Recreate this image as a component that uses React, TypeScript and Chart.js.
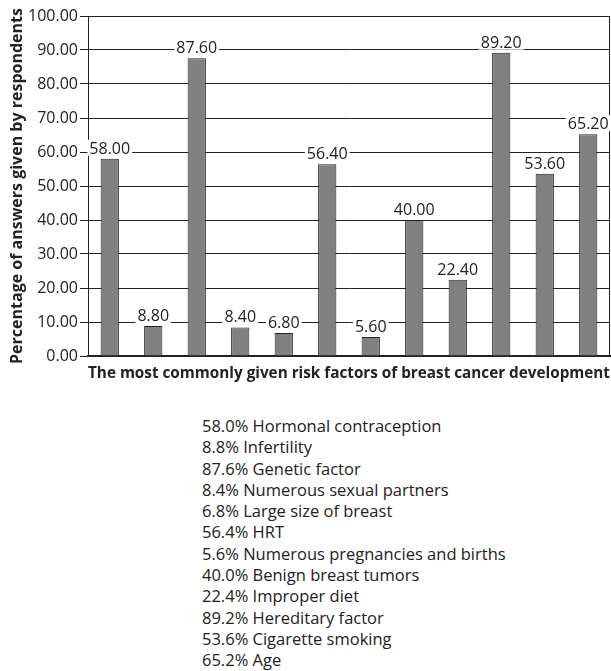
import React, { useEffect, useRef } from "react";
import { Chart, registerables } from "chart.js";

Chart.register(...registerables);

const categories = [
  "Hormonal contraception",
  "Infertility",
  "Genetic factor",
  "Numerous sexual partners",
  "Large size of breast",
  "HRT",
  "Numerous pregnancies and births",
  "Benign breast tumors",
  "Improper diet",
  "Hereditary factor",
  "Cigarette smoking",
  "Age",
];
const values = [58.0, 8.8, 87.6, 8.4, 6.8, 56.4, 5.6, 40.0, 22.4, 89.2, 53.6, 65.2];
const yTicks = [0, 10, 20, 30, 40, 50, 60, 70, 80, 90, 100];

const FONT = "'Open Sans', 'Noto Sans', sans-serif";
const INK = "#222222";

const frame = {
  id: "frame",
  beforeDatasetsDraw(chart: any) {
    const { ctx, chartArea } = chart;
    ctx.save();
    ctx.strokeStyle = INK;
    ctx.lineWidth = 1;
    ctx.strokeRect(
      Math.round(chartArea.left) + 0.5,
      Math.round(chartArea.top) + 0.5,
      Math.round(chartArea.right - chartArea.left) - 1,
      Math.round(chartArea.bottom - chartArea.top)
    );
    ctx.restore();
  },
};

const valueLabels = {
  id: "valueLabels",
  afterDatasetsDraw(chart: any) {
    const { ctx } = chart;
    const meta = chart.getDatasetMeta(0);
    ctx.save();
    ctx.font = `16px ${FONT}`;
    ctx.textAlign = "center";
    ctx.textBaseline = "alphabetic";
    meta.data.forEach((bar: any, i: number) => {
      const txt = values[i].toFixed(2);
      const w = ctx.measureText(txt).width;
      const y = bar.y - 5;
      ctx.fillStyle = "#ffffff";
      ctx.fillRect(bar.x - w / 2 - 2, y - 14, w + 4, 16);
      ctx.fillStyle = INK;
      ctx.fillText(txt, bar.x, y);
    });
    ctx.restore();
  },
};

export default function App() {
  const ref = useRef<HTMLCanvasElement>(null);
  useEffect(() => {
    if (!ref.current) return;
    const chart = new Chart(ref.current, {
      type: "bar",
      data: {
        labels: categories,
        datasets: [
          {
            data: values,
            backgroundColor: "#808080",
            borderColor: INK,
            borderWidth: 1,
            categoryPercentage: 1,
            barPercentage: 0.42,
          },
        ],
      },
      options: {
        animation: false,
        responsive: false,
        maintainAspectRatio: false,
        layout: { padding: { top: 16, right: 1, left: 0, bottom: 0 } },
        plugins: { legend: { display: false }, tooltip: { enabled: false } },
        scales: {
          x: {
            ticks: { display: false },
            grid: { display: false },
            border: { display: true, color: INK, width: 2 },
            title: {
              display: true,
              text: "The most commonly given risk factors of breast cancer development",
              font: { family: FONT, size: 16, weight: "bold" },
              color: INK,
              align: "end",
              padding: { top: 0, bottom: 12 },
            },
            afterFit: (s: any) => {
              s.height = 39;
            },
          },
          y: {
            min: 0,
            max: 100,
            afterBuildTicks: (s: any) => {
              s.ticks = yTicks.map((v) => ({ value: v }));
            },
            ticks: {
              callback: (v: any) => Number(v).toFixed(2),
              font: { family: FONT, size: 16 },
              color: INK,
              padding: 2,
            },
            grid: { color: INK, lineWidth: 1, tickLength: 8, drawTicks: true },
            border: { display: true, color: INK, width: 1 },
            title: {
              display: true,
              text: "Percentage of answers given by respondents",
              font: { family: FONT, size: 16, weight: "bold" },
              color: INK,
              padding: { top: 8, bottom: 0 },
            },
            afterFit: (s: any) => {
              s.width = 88;
            },
          },
        },
      },
      plugins: [frame, valueLabels],
    });
    return () => chart.destroy();
  }, []);

  return (
    <div style={{ position: "absolute", left: 0, top: 0, width: 611, height: 671, background: "#fff" }}>
      <canvas ref={ref} width={611} height={395} style={{ display: "block", width: 611, height: 395 }} />
      <div
        style={{
          position: "absolute",
          left: 202,
          top: 415,
          fontFamily: FONT,
          fontSize: 16.5,
          lineHeight: "21.3px",
          color: INK,
          whiteSpace: "nowrap",
        }}
      >
        {categories.map((c, i) => (
          <div key={c}>{`${values[i].toFixed(1)}% ${c}`}</div>
        ))}
      </div>
    </div>
  );
}
